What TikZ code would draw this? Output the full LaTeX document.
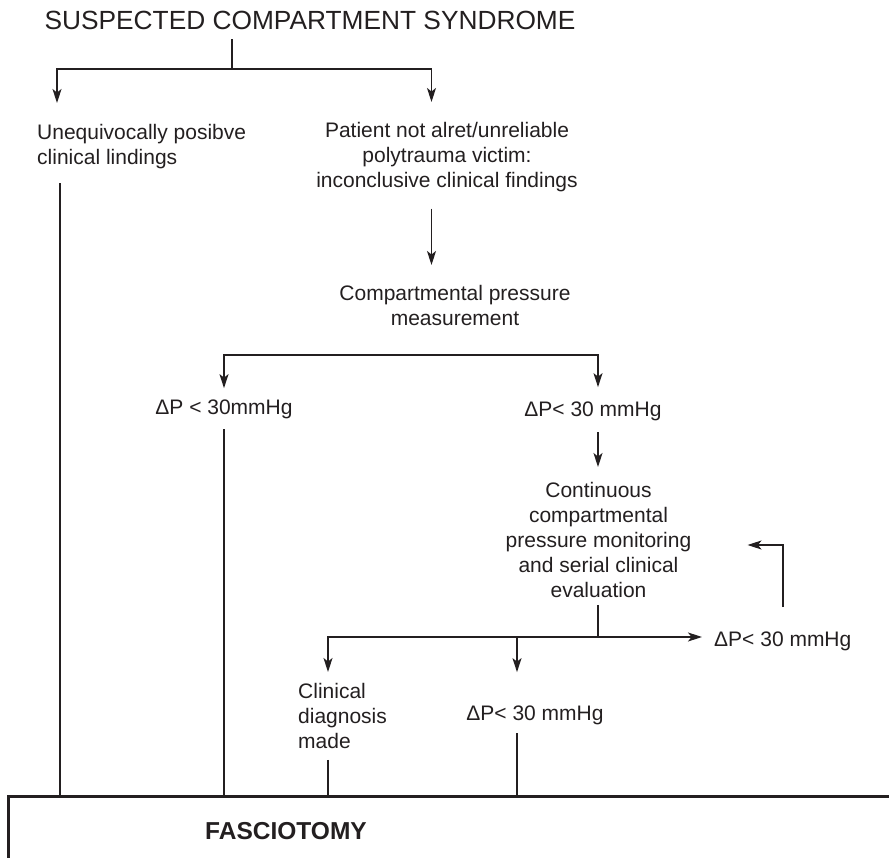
\documentclass[tikz,border=0pt]{standalone}
\usepackage{fontspec}
\setmainfont{Liberation Sans}
\usetikzlibrary{arrows.meta}
\definecolor{ink}{HTML}{231F20}

\begin{document}
\begin{tikzpicture}[x=1pt, y=-1pt, every node/.style={text=ink},
  txt/.style={inner sep=0pt, font=\fontsize{21}{25}\selectfont},
  line/.style={draw=ink, line width=1.3pt},
  arr/.style={line, -{Stealth[length=14pt, width=9pt, inset=3.5pt]}}]
  \clip (0,0) rectangle (889,858);

  % text of the chart
  \node[txt, anchor=base, font=\fontsize{26.3}{30}\selectfont] (title) at (310,29.3) {SUSPECTED COMPARTMENT SYNDROME};
  \node[txt, anchor=north west, align=left] (posit) at (37,124.3) {Unequivocally posibve\\clinical lindings};
  \node[txt, anchor=north, align=center] (unrel) at (447,122) {Patient not alret/unreliable\\polytrauma victim:\\inconclusive clinical findings};
  \node[txt, anchor=north, align=center] (press) at (455,285) {Compartmental pressure\\measurement};
  \node[txt, anchor=base] (lowL) at (224,415) {ΔP < 30mmHg};
  \node[txt, anchor=base] (lowR) at (593,417) {ΔP< 30 mmHg};
  \node[txt, anchor=north, align=center] (monit) at (598.5,482) {Continuous\\compartmental\\pressure monitoring\\and serial clinical\\evaluation};
  \node[txt, anchor=base west] (upR) at (714,646) {ΔP< 30 mmHg};
  \node[txt, anchor=north west, align=left] (clin) at (298,683) {Clinical\\diagnosis\\made};
  \node[txt, anchor=base] (lowB) at (535,720) {ΔP< 30 mmHg};

  % treatment box
  \node[draw=ink, line width=2.6pt, anchor=north west, inner sep=0pt,
        minimum width=1000pt, minimum height=200pt] (box) at (7,795) {};
  \node[inner sep=0pt, anchor=base west, font=\bfseries\fontsize{24.5}{28}\selectfont] (fasc) at (205,839) {FASCIOTOMY};

  % junctions
  \coordinate (split1) at (232,69);
  \coordinate (forkL) at (57,69);
  \coordinate (forkR) at (431.5,69);
  \coordinate (split2L) at (224,355);
  \coordinate (split2R) at (598,355);
  \coordinate (split3) at (598,637);
  \coordinate (forkC) at (328,637);
  \coordinate (forkD) at (517,637);
  \coordinate (loop) at (783,545);
  \coordinate (dropA) at ([xshift=23pt, yshift=-14pt]posit.south west);

  % connectors
  \draw[line, shorten <=9.7pt] (split1 |- title.south) -- (split1);
  \draw[arr, shorten >=21.3pt] (split1) -| (forkL |- posit.north);
  \draw[arr, shorten >=20pt] (split1) -| (forkR |- unrel.north);
  \draw[line] (dropA) -- (dropA |- box.north);
  \draw[arr, shorten <=16.6pt, shorten >=20pt] (forkR |- unrel.south) -- (forkR |- press.north);

  \draw[arr, shorten >=12pt] (split2R) -| (split2L |- lowL.north);
  \draw[arr, shorten >=15pt] (split2L) -| (split2R |- lowR.north);
  \draw[line, shorten <=9.6pt] (split2L |- lowL.south) -- (split2L |- box.north);
  \draw[arr, shorten <=10.6pt, shorten >=15pt] (split2R |- lowR.south) -- (split2R |- monit.north);

  \draw[line, shorten <=7pt] (split3 |- monit.south) -- (split3);
  \draw[arr, shorten >=12pt] (split3) -- (split3 -| upR.west);
  \draw[arr, shorten >=11pt] (split3) -| (forkC |- clin.north);
  \draw[arr, shorten >=33pt] (forkD) -- (forkD |- lowB.north);
  \draw[arr, shorten <=24pt, shorten >=56pt] (loop |- upR.north) -- (loop) -- (loop -| monit.east);

  \draw[line, shorten <=11pt] (forkC |- clin.south) -- (forkC |- box.north);
  \draw[line, shorten <=8.6pt] (forkD |- lowB.south) -- (forkD |- box.north);
\end{tikzpicture}
\end{document}
